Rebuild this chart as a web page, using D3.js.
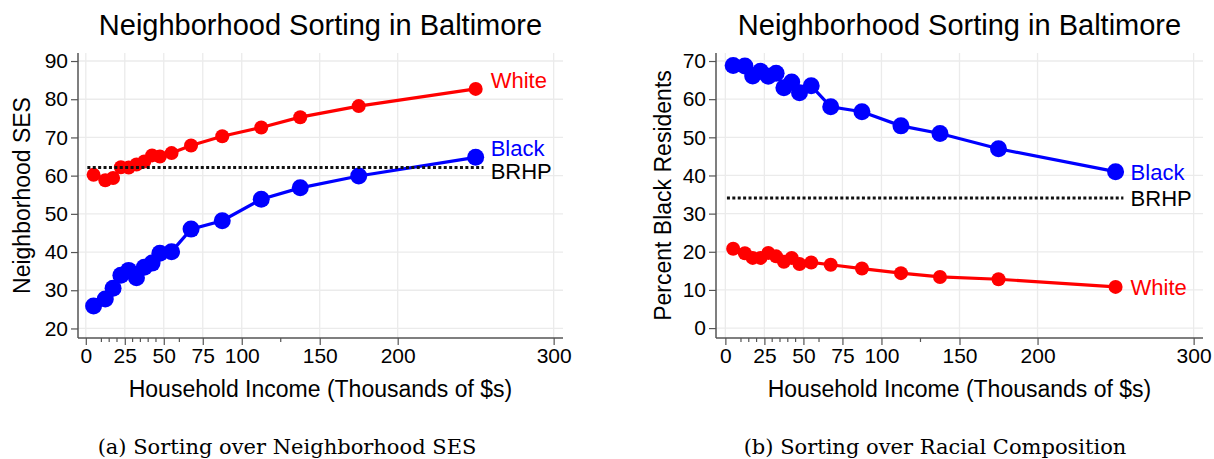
<!DOCTYPE html>
<html>
<head>
<meta charset="utf-8">
<script src="https://cdn.jsdelivr.net/npm/d3@7"></script>
<style>
    body { margin: 0; background: #fff; }
    svg { display: block; }
    text { font-family: "Liberation Sans", Arial, sans-serif; }
</style>
</head>
<body>
<div id="chart-root"></div>
<script>
// income bin midpoints (thousands of $)
const incomeBins = [ 5, 12.5, 17.5, 22.5, 27.5, 32.5, 37.5, 42.5, 47.5, 55, 67.5, 87.5, 112.5, 137.5, 175, 250 ];

// panel (a): neighborhood SES
const sesWhite = [ 60.2, 58.8, 59.4, 62.2, 62.1, 62.9, 63.7, 65.3, 65.0, 65.9, 67.9, 70.3, 72.6, 75.3, 78.2, 82.7 ];
const sesBlack = [ 25.9, 27.7, 30.5, 33.9, 35.2, 33.3, 36.0, 37.1, 39.7, 40.1, 46.0, 48.2, 53.8, 56.8, 59.9, 64.8 ];
const sesBRHP = 62.1;

// panel (b): percent black residents
const pctWhite = [ 20.8, 19.6, 18.4, 18.4, 19.7, 18.8, 17.4, 18.4, 16.8, 17.2, 16.6, 15.6, 14.4, 13.4, 12.8, 10.8 ];
const pctBlack = [ 68.8, 68.7, 66.1, 67.3, 66.0, 66.8, 63.0, 64.5, 61.7, 63.5, 58.0, 56.7, 53.0, 51.0, 47.0, 41.0 ];
const pctBRHP = 34.1;

// tick labels
const xMajorTicks = [ 0, 25, 50, 75, 100, 150, 200, 300 ];
const xMinorTicks = [ 10, 15, 20, 30, 35, 40, 45, 60, 125 ];
const brhpSpan = [ 1, 255 ];
const sesTicks = [ 20, 30, 40, 50, 60, 70, 80, 90 ];
const pctTicks = [ 0, 10, 20, 30, 40, 50, 60, 70 ];

const titleText = 'Neighborhood Sorting in Baltimore';
const xTitle = 'Household Income (Thousands of $s)';

const RED = '#ff0000';
const BLUE = '#0000ff';
const GRID = '#ebebeb';
const AXIS = '#555555';

const svg = d3.select('#chart-root')
    .append('svg')
    .attr('width', 1214)
    .attr('height', 459);

function drawPanel(cfg) {
    const x = d3.scaleLinear().domain(cfg.xDomain).range([ cfg.left, cfg.right ]);
    const y = d3.scaleLinear().domain(cfg.yDomain).range([ cfg.bottom, cfg.top ]);
    const g = svg.append('g');

    // grid
    g.append('g')
    .selectAll('line')
    .data(cfg.yTicks)
    .enter()
    .append('line')
    .attr('x1', cfg.left)
    .attr('x2', cfg.right)
    .attr('y1', d => y(d))
    .attr('y2', d => y(d))
    .attr('stroke', GRID)
    .attr('stroke-width', 1.3);
    g.append('g')
    .selectAll('line')
    .data(xMajorTicks)
    .enter()
    .append('line')
    .attr('x1', d => x(d))
    .attr('x2', d => x(d))
    .attr('y1', cfg.top)
    .attr('y2', cfg.bottom)
    .attr('stroke', GRID)
    .attr('stroke-width', 1.3);

    // y axis
    const yAxis = g.append('g')
    .attr('transform', 'translate(' + cfg.left + ',0)')
    .call(d3.axisLeft(y).tickValues(cfg.yTicks).tickSize(7).tickPadding(3));
    yAxis.select('.domain').remove();
    yAxis.append('line')
    .attr('y1', cfg.top)
    .attr('y2', cfg.bottom)
    .attr('stroke', AXIS)
    .attr('stroke-width', 1.5);

    // x axis
    const xAxis = g.append('g')
    .attr('transform', 'translate(0,' + cfg.bottom + ')')
    .call(d3.axisBottom(x).tickValues(xMajorTicks).tickSize(7).tickPadding(3).tickFormat(d3.format('d')));
    xAxis.select('.domain').remove();
    xAxis.append('line')
    .attr('x1', cfg.left)
    .attr('x2', cfg.right)
    .attr('stroke', AXIS)
    .attr('stroke-width', 1.5);
    xAxis.selectAll('.minor')
    .data(xMinorTicks)
    .enter()
    .append('line')
    .attr('class', 'minor')
    .attr('x1', d => x(d))
    .attr('x2', d => x(d))
    .attr('y1', 0)
    .attr('y2', 4)
    .attr('stroke', AXIS)
    .attr('stroke-width', 1.2);

    [ yAxis, xAxis ].forEach(a => {
        a.selectAll('.tick line').attr('stroke', AXIS).attr('stroke-width', 1.2);
        a.selectAll('.tick text')
        .attr('fill', '#000')
        .style('font-size', '21px')
        .style('font-family', '"Liberation Sans", Arial, sans-serif');
    });

    // series
    const line = d3.line()
    .x((d, i) => x(incomeBins[i]))
    .y(d => y(d));

    cfg.series.forEach(s => {
        g.append('path')
        .datum(s.values)
        .attr('fill', 'none')
        .attr('stroke', s.color)
        .attr('stroke-width', 3.2)
        .attr('d', line);
        g.append('g')
        .selectAll('circle')
        .data(s.values)
        .enter()
        .append('circle')
        .attr('cx', (d, i) => x(incomeBins[i]))
        .attr('cy', d => y(d))
        .attr('r', s.r)
        .attr('fill', s.color);
    });

    // BRHP benchmark
    g.append('line')
    .attr('x1', x(brhpSpan[0]))
    .attr('x2', x(brhpSpan[1]))
    .attr('y1', y(cfg.brhp))
    .attr('y2', y(cfg.brhp))
    .attr('stroke', '#111')
    .attr('stroke-width', 3)
    .attr('stroke-dasharray', '3,2.4');

    // end labels
    const lastX = x(incomeBins[incomeBins.length - 1]) + 15;
    cfg.series.concat([ { name: 'BRHP', color: '#000', values: [ cfg.brhp ], dy: cfg.brhpDy } ])
    .forEach(s => {
        g.append('text')
        .attr('x', lastX)
        .attr('y', y(s.values[s.values.length - 1]) + s.dy)
        .attr('fill', s.color)
        .style('font-size', '22px')
        .text(s.name);
    });

    // titles
    const cx = (cfg.left + cfg.right) / 2;
    g.append('text')
    .attr('x', cx)
    .attr('y', 35)
    .attr('text-anchor', 'middle')
    .style('font-size', '29px')
    .text(titleText);
    g.append('text')
    .attr('x', cx)
    .attr('y', 397)
    .attr('text-anchor', 'middle')
    .style('font-size', '23px')
    .text(xTitle);
    g.append('text')
    .attr('transform', 'translate(' + cfg.yTitleX + ',' + (cfg.top + cfg.bottom) / 2 + ') rotate(-90)')
    .attr('text-anchor', 'middle')
    .style('font-size', '23px')
    .text(cfg.yTitle);
    g.append('text')
    .attr('x', cfg.captionX)
    .attr('y', 454)
    .attr('text-anchor', 'middle')
    .style('font-family', '"DejaVu Serif", "Liberation Serif", serif')
    .style('font-size', '21px')
    .text(cfg.caption);
}

drawPanel({
    left: 78, right: 563, top: 53, bottom: 338,
    xDomain: [ -5, 306 ],
    yDomain: [ 17.5, 92.1 ],
    yTicks: sesTicks,
    series: [
        { name: 'White', color: RED, values: sesWhite, r: 7, dy: -1 },
        { name: 'Black', color: BLUE, values: sesBlack, r: 8.5, dy: -1 }
    ],
    brhp: sesBRHP,
    brhpDy: 11.5,
    yTitle: 'Neighborhood SES',
    yTitleX: 30,
    caption: '(a) Sorting over Neighborhood SES',
    captionX: 287
});

drawPanel({
    left: 716, right: 1203, top: 53, bottom: 338,
    xDomain: [ -6, 306 ],
    yDomain: [ -2.6, 72.1 ],
    yTicks: pctTicks,
    series: [
        { name: 'White', color: RED, values: pctWhite, r: 7, dy: 8 },
        { name: 'Black', color: BLUE, values: pctBlack, r: 8.5, dy: 8 }
    ],
    brhp: pctBRHP,
    brhpDy: 8,
    yTitle: 'Percent Black Residents',
    yTitleX: 671,
    caption: '(b) Sorting over Racial Composition',
    captionX: 935
});
</script>
</body>
</html>
